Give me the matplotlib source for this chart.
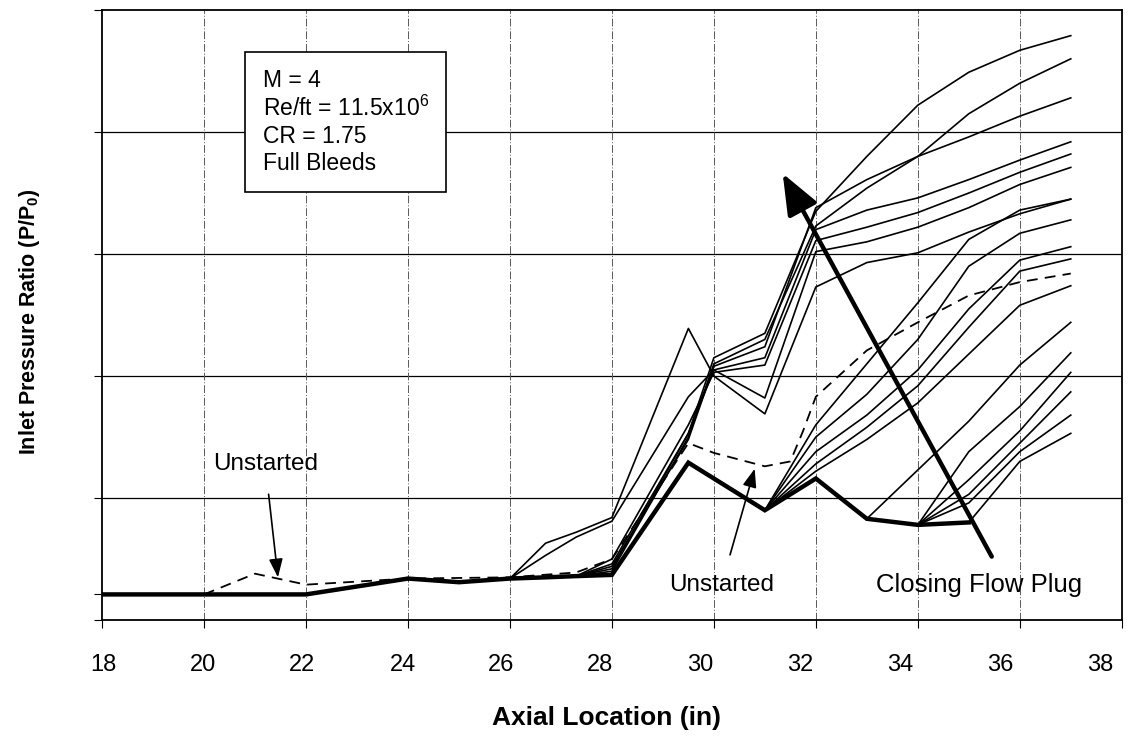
import numpy as np
import matplotlib
matplotlib.use("Agg")
import matplotlib.pyplot as plt
from matplotlib.patches import Rectangle

plt.rcParams['font.family'] = ['Liberation Sans', 'DejaVu Sans']
plt.rcParams['mathtext.fontset'] = 'custom'
plt.rcParams['mathtext.rm'] = 'Liberation Sans'
plt.rcParams['mathtext.bf'] = 'Liberation Sans:bold'
plt.rcParams['mathtext.default'] = 'regular'

nan = np.nan
# ---------------- data ----------------
x_stations = [18, 20, 22, 24, 25, 26, 26.7, 27.3, 28, 29.5, 30, 31, 32, 33, 34, 35, 36, 37]
prefix = [2.1, 2.1, 2.1, 3.4, 3.1, 3.4, 3.5, 3.6]

# upper (started) curves
c1 = prefix + [4.2, 15.3, 21.5, 23.5, 33.5, 38.0, 42.2, 44.9, 46.7, 47.9]
c2 = prefix + [4.0, 15.0, 21.0, 23.0, 32.3, 35.4, 38.0, 41.5, 44.0, 46.0]
c3 = prefix + [4.4, 14.8, 20.8, 22.4, 33.8, 36.1, 38.0, 39.6, 41.3, 42.8]
c4 = prefix + [4.6, 15.3, 20.5, 21.5, 32.0, 33.6, 34.6, 36.1, 37.7, 39.2]
c5 = prefix + [5.0, 16.0, 20.3, 20.9, 31.1, 32.2, 33.4, 35.0, 36.7, 38.2]
c6 = [2.1, 2.1, 2.1, 3.4, 3.1, 3.4, 5.3, 6.8, 8.1, 18.3, 20.5, 18.2, 30.2, 31.0, 32.2, 33.8, 35.7, 37.1]
c7 = [2.1, 2.1, 2.1, 3.4, 3.1, 3.4, 6.3, 7.2, 8.4, 23.9, 20.0, 16.9, 27.3, 29.3, 30.1, 31.8, 33.3, 34.5]
# middle curves (leave the base path at x = 31)
c8 = prefix + [3.7, 12.9, 11.6, 9.0, 16.0, 21.0, 26.0, 31.2, 33.6, 34.5]
c9 = prefix + [3.7, 12.9, 11.6, 9.0, 15.0, 18.5, 23.0, 29.0, 31.7, 32.8]
c10 = prefix + [3.7, 12.9, 11.6, 9.0, 13.8, 16.8, 20.5, 25.5, 29.5, 30.6]
c11 = prefix + [3.7, 12.9, 11.6, 9.0, 12.8, 15.8, 19.2, 24.0, 28.6, 29.6]
c12 = prefix + [3.7, 12.9, 11.6, 9.0, 12.2, 14.8, 17.8, 21.8, 25.8, 27.4]
# lower curves (leave the base path at x = 33, 34, 35)
c13 = prefix + [3.7, 12.9, 11.6, 9.0, 11.6, 8.3, 12.3, 16.3, 20.9, 24.4]
c14 = prefix + [3.7, 12.9, 11.6, 9.0, 11.6, 8.3, 7.8, 13.8, 17.5, 21.9]
c15 = prefix + [3.7, 12.9, 11.6, 9.0, 11.6, 8.3, 7.8, 11.5, 15.5, 20.3]
c16 = prefix + [3.7, 12.9, 11.6, 9.0, 11.6, 8.3, 7.8, 10.3, 14.5, 18.7]
c17 = prefix + [3.7, 12.9, 11.6, 9.0, 11.6, 8.3, 7.8, 9.6, 13.8, 16.8]
c18 = prefix + [3.7, 12.9, 11.6, 9.0, 11.6, 8.3, 7.8, 8.0, 13.0, 15.3]
thin_curves = [c1, c2, c3, c4, c5, c6, c7, c8, c9, c10, c11, c12,
               c13, c14, c15, c16, c17, c18]

# base (thick) curve
base_y = prefix + [3.7, 12.9, 11.6, 9.0, 11.6, 8.3, 7.8, 8.0, nan, nan]

# unstarted (dashed) curve
unstarted_x = [20, 21, 22, 24, 26, 27.3, 28, 29.5, 30, 31, 31.5, 31.75, 32, 33, 34, 35, 36, 37]
unstarted_y = [2.1, 3.8, 2.9, 3.4, 3.5, 3.9, 5.0, 14.5, 13.7, 12.6, 13.0, 15.5, 18.3, 22.1, 24.4, 26.6, 27.7, 28.4]

x_ticks = [18, 20, 22, 24, 26, 28, 30, 32, 34, 36, 38]
x_tick_labels = ['18', '20', '22', '24', '26', '28', '30', '32', '34', '36', '38']
y_grid = [0, 10, 20, 30, 40, 50]
info_lines = ['M = 4', 'Re/ft = 11.5x10$^{6}$', 'CR = 1.75', 'Full Bleeds']

# label placement (the scanned labels sit slightly left of their grid lines)
x_label_pos = [18.02, 19.98, 21.92, 23.9, 25.82, 27.76, 29.73, 31.69, 33.65, 35.61, 37.57]
info_line_y = [44.26, 41.97, 39.67, 37.38]

# ---------------- figure ----------------
fig = plt.figure(figsize=(11.4, 7.37), dpi=100)
ax = fig.add_axes([0.0895, 0.1587, 0.8945, 0.8277])
ax.set_xlim(18, 38)
ax.set_ylim(0, 50)

for yv in y_grid[1:-1]:
    ax.axhline(yv, color='black', lw=0.9, zorder=1)
for xv in x_ticks[1:-1]:
    ax.axvline(xv, color='0.35', lw=0.7, ls=(0, (8, 2, 1, 2)), zorder=1)

for c in thin_curves:
    ax.plot(x_stations, c, color='black', lw=1.2, zorder=3)
ax.plot(x_stations, base_y, color='black', lw=3.2, zorder=4, solid_joinstyle='miter')
ax.plot(unstarted_x, unstarted_y, color='black', lw=1.3, ls=(0, (6, 4)), zorder=3)

ax.set_xticks(x_ticks)
ax.set_xticklabels([])
ax.set_yticks(y_grid)
ax.set_yticklabels([])
ax.set_yticks([prefix[0]], minor=True)
ax.tick_params(axis='x', direction='out', length=6, width=0.8)
ax.tick_params(axis='y', which='both', direction='out', length=6, width=0.8)
for s in ax.spines.values():
    s.set_linewidth(1.3)

for xp, lab in zip(x_label_pos, x_tick_labels):
    ax.text(xp, -3.7, lab, ha='center', va='center', fontsize=17, clip_on=False)

fig.text(606 / 1140, 1 - 718 / 737, 'Axial Location (in)', ha='center', va='center',
         fontsize=19, fontweight='bold')
fig.text(30 / 1140, 1 - 322 / 737, r'Inlet Pressure Ratio (P/P$_{\mathbf{0}}$)', ha='center',
         va='center', rotation=90, fontsize=15.5, fontweight='bold')

# info box
ax.add_patch(Rectangle((20.8, 35.1), 3.95, 11.46, fc='white', ec='black', lw=1.2, zorder=6))
for yl, txt in zip(info_line_y, info_lines):
    ax.text(21.15, yl, txt, ha='left', va='center', fontsize=16.5, zorder=7)

# annotations
ax.annotate('Unstarted', xy=(21.45, 3.5), xytext=(21.2, 12.8), ha='center', va='center',
            fontsize=17.5,
            arrowprops=dict(arrowstyle='-|>,head_length=0.8,head_width=0.3', color='black',
                            lw=1.2, mutation_scale=14, shrinkA=12, shrinkB=0))
ax.annotate('Unstarted', xy=(30.8, 12.4), xytext=(30.15, 2.9), ha='center', va='center',
            fontsize=17.5,
            arrowprops=dict(arrowstyle='-|>,head_length=0.8,head_width=0.3', color='black',
                            lw=1.2, mutation_scale=14, shrinkA=12, shrinkB=0))
ax.text(35.2, 2.9, 'Closing Flow Plug', ha='center', va='center', fontsize=18.5)
ax.annotate('', xy=(31.35, 36.6), xytext=(35.45, 5.2),
            arrowprops=dict(arrowstyle='-|>,head_length=1.0,head_width=0.4', color='black',
                            lw=3.2, mutation_scale=25, shrinkA=0, shrinkB=0), zorder=7)

fig.savefig('out.png', dpi=100)
